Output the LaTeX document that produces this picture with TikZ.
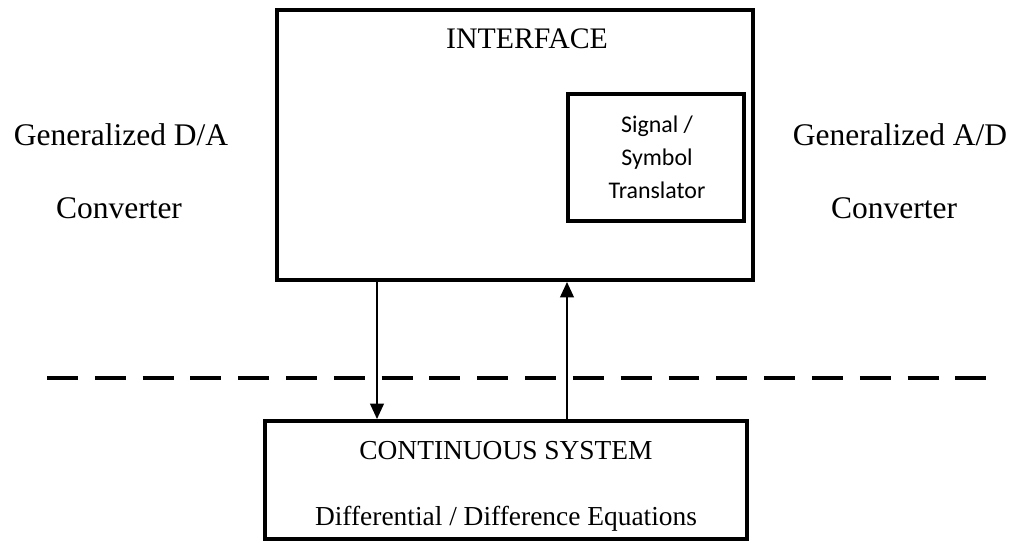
\documentclass[tikz,border=0pt]{standalone}
\usepackage{fontspec}
\setmainfont{Liberation Serif}
\newfontfamily\calibrifont{Carlito}
\usepackage{tikz}
\usetikzlibrary{arrows.meta, positioning}

\begin{document}
\begin{tikzpicture}[x=0.025cm, y=-0.025cm,
    block/.style={draw, line width=2.6pt, inner sep=0pt},
    side/.style={anchor=base, font=\fontsize{22.4}{26}\selectfont},
    title/.style={anchor=base, font=\fontsize{21.2}{24}\selectfont},
    link/.style={line width=2pt, -{Triangle[length=11pt, width=9.5pt]}}]
    \useasboundingbox (0,0) rectangle (1015,542);

    % boxes
    \node[block, minimum width=11.9cm, minimum height=6.75cm] (iface) at (515,145) {};
    \node[block, minimum width=4.4cm, minimum height=3.175cm] (trans) at (656,157.5) {};
    \node[block, minimum width=12.05cm, minimum height=2.95cm] (sys) at (506,480) {};

    % texts
    \node[title] (ifacetxt) at (527,48) {INTERFACE};
    \node[align=center, font=\calibrifont\fontsize{17}{23.5}\selectfont] (transtxt) at (657,157) {Signal /\\Symbol\\Translator};
    \node[title, font=\fontsize{19.5}{24}\selectfont] (systxt) at (506,459) {CONTINUOUS SYSTEM};
    \node[title, font=\fontsize{19.5}{24}\selectfont] (eqtxt) at (506,525) {Differential / Difference Equations};
    \node[side] (da) at (121,145) {Generalized D/A};
    \node[side] (daconv) at (119,218) {Converter};
    \node[side] (ad) at (900,145) {Generalized A/D};
    \node[side] (adconv) at (894,218) {Converter};

    % boundary line
    \coordinate (dl) at (47,378);
    \coordinate (dr) at (990,378);
    \draw[line width=2.4pt, dash pattern=on 22pt off 12pt] (dl) -- (dr);

    % arrows
    \coordinate (down) at (377,0);
    \coordinate (up) at (567,0);
    \draw[link] (iface.south -| down) -- (sys.north -| down);
    \draw[link] (sys.north -| up) -- (iface.south -| up);
\end{tikzpicture}
\end{document}
